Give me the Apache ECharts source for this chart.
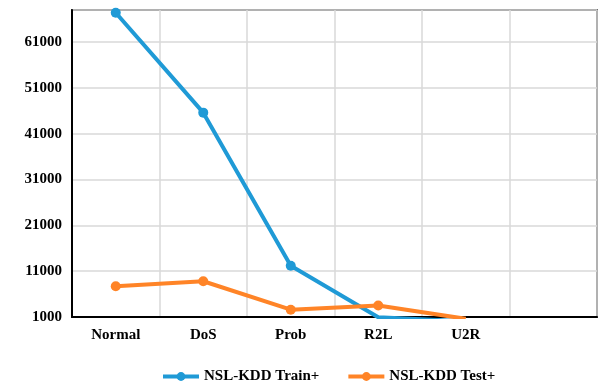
<!DOCTYPE html>
<html>
<head>
<meta charset="utf-8">
<script src="https://cdn.jsdelivr.net/npm/echarts@6/dist/echarts.min.js"></script>
<style>html,body{margin:0;padding:0;background:#fff}#c{width:601px;height:387px}</style>
</head>
<body>
<div id="c"></div>
<script>
const categories = ["Normal", "DoS", "Prob", "R2L", "U2R", ""];
const trainValues = [67400, 45600, 12200, 950, 52, null];
const testValues = [7700, 8800, 2600, 3500, 600, null];
const seriesNames = ["NSL-KDD Train+", "NSL-KDD Test+"];

const font = "'Liberation Serif', 'Times New Roman', serif";
const chart = echarts.init(document.getElementById('c'), null, {renderer: 'canvas'});
chart.setOption({
  backgroundColor: '#fff',
  animation: false,
  grid: {left: 72, right: 4, top: 10, bottom: 70, show: true, borderColor: '#000', borderWidth: 1.5, containLabel: false},
  legend: {
    top: 364, left: 156,
    itemWidth: 36, itemHeight: 11, itemGap: 27,
    lineStyle: {width: 4},
    textStyle: {fontFamily: font, fontWeight: 'bold', fontSize: 15, color: '#000'},
    data: seriesNames
  },
  xAxis: {
    type: 'category', data: categories, boundaryGap: true,
    axisLine: {lineStyle: {color: '#000', width: 2}},
    axisTick: {show: false},
    axisLabel: {fontFamily: font, fontWeight: 'bold', fontSize: 15, color: '#000', margin: 11, interval: 0},
    splitLine: {show: true, interval: 0, lineStyle: {color: '#d9d9d9', width: 1.5}}
  },
  yAxis: {
    type: 'value', min: 1000, max: 68000, interval: 10000,
    axisLine: {show: true, lineStyle: {color: '#000', width: 2}},
    axisTick: {show: false},
    axisLabel: {fontFamily: font, fontWeight: 'bold', fontSize: 15, color: '#000', margin: 10, showMaxLabel: false,
      formatter: function (v) { return String(v); }},
    splitLine: {show: true, lineStyle: {color: '#d9d9d9', width: 1.5}}
  },
  series: [
    {name: seriesNames[0], type: 'line', data: trainValues, clip: true,
     symbol: 'circle', symbolSize: 10, color: '#1f9ad6',
     lineStyle: {width: 4, color: '#1f9ad6'}, itemStyle: {color: '#1f9ad6'}},
    {name: seriesNames[1], type: 'line', data: testValues, clip: true,
     symbol: 'circle', symbolSize: 10, color: '#ff8427',
     lineStyle: {width: 4, color: '#ff8427'}, itemStyle: {color: '#ff8427'}}
  ]
});
</script>
</body>
</html>
